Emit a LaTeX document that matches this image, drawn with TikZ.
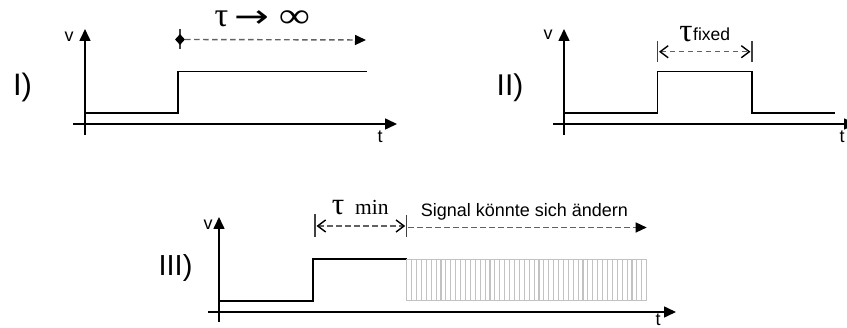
\documentclass[tikz,border=0pt]{standalone}
\usepackage{fontspec}
\usepackage{graphicx}
\setmainfont{Liberation Sans}
\newfontfamily\serifgr{Liberation Serif}
\newfontfamily\dejavu{DejaVu Sans}
\usetikzlibrary{arrows.meta,shapes.geometric}
\begin{document}
\begin{tikzpicture}[x=1pt,y=-1pt,
  axis/.style={line width=1.6pt, -{Triangle[length=12pt,width=11pt]}},
  sig/.style={line width=1.6pt},
  tickln/.style={line width=1.2pt, draw=black!75},
  dasharrow/.style={line width=1.4pt, draw=black!62, dash pattern=on 5.5pt off 3.5pt},
  chevL/.style={{Straight Barb[length=8pt,width=12pt,line width=1.4pt,color=black]}-},
  chevB/.style={{Straight Barb[length=8pt,width=12pt,line width=1.4pt,color=black]}-{Straight Barb[length=8pt,width=12pt,line width=1.4pt,color=black]}},
  filltip/.style={-{Triangle[length=11pt,width=10pt,color=black,fill=black]}},
  lbl/.style={inner sep=0pt, font=\fontsize{18}{18}\selectfont},
  roman/.style={inner sep=0pt, font=\fontsize{30}{30}\selectfont},
  hatchln/.style={line width=1.1pt, draw=black!24},
]
\useasboundingbox (0,0) rectangle (847,328);
\clip (0,0) rectangle (847,328);

% ---------------- Panel I ----------------
\coordinate (A1xs) at (73,124);  \coordinate (A1xe) at (397,124);
\coordinate (A1ys) at (85,135);  \coordinate (A1ye) at (85,29);
\draw[axis] (A1xs) -- (A1xe);
\draw[axis] (A1ys) -- (A1ye);
\coordinate (S1a) at (85,113);   \coordinate (S1b) at (178,113);
\coordinate (S1c) at (178,71.5); \coordinate (S1d) at (367,71.5);
\draw[sig] (S1a) -- (S1b) -- (S1c) -- (S1d);
\coordinate (T1a) at (180,29);   \coordinate (T1b) at (180,49);
\draw[tickln] (T1a) -- (T1b);
\node[diamond, fill=black, inner sep=0pt, minimum width=10pt, minimum height=11pt] (D1) at (180,39.5) {};
\coordinate (E1) at (366,40);
\draw[dasharrow, filltip] (D1.east) -- (E1);
\node[lbl] (v1) at (69,37) {v};
\node[lbl] (t1) at (380,137) {t};
\node[roman, font=\fontsize{31}{31}\selectfont] (r1) at (22.5,87) {I)};
\node[inner sep=0pt, anchor=base, font=\serifgr\fontsize{34}{34}\selectfont] (tau1) at (221.5,27) {τ};
\node[inner sep=0pt, font=\dejavu\fontsize{32}{32}\selectfont] (arr1) at (252,19.5) {\scalebox{1.3}[1]{→}};
\node[inner sep=0pt, font=\serifgr\fontsize{35}{35}\selectfont] (inf1) at (294.5,19) {\scalebox{1.25}[1]{∞}};

% ---------------- Panel II ----------------
\coordinate (A2xs) at (553,124); \coordinate (A2xe) at (856,124);
\coordinate (A2ys) at (564,135); \coordinate (A2ye) at (564,29);
\draw[axis] (A2xs) -- (A2xe);
\draw[axis] (A2ys) -- (A2ye);
\coordinate (S2a) at (564,113);    \coordinate (S2b) at (657.5,113);
\coordinate (S2c) at (657.5,71.5); \coordinate (S2d) at (752,71.5);
\coordinate (S2e) at (752,113);    \coordinate (S2f) at (835,113);
\draw[sig] (S2a) -- (S2b) -- (S2c) -- (S2d) -- (S2e) -- (S2f);
\coordinate (T2a) at (657.5,41); \coordinate (T2b) at (657.5,62);
\coordinate (T2c) at (752,41);   \coordinate (T2d) at (752,62);
\draw[tickln] (T2a) -- (T2b);
\draw[tickln] (T2c) -- (T2d);
\coordinate (F2a) at (659,51.7); \coordinate (F2b) at (750.5,51.7);
\draw[dasharrow, chevB] (F2a) -- (F2b);
\node[lbl] (v2) at (548,35) {v};
\node[lbl] (t2) at (842,137) {t};
\node[roman] (r2) at (510,88) {II)};
\node[inner sep=0pt, anchor=base, font=\serifgr\fontsize{33}{33}\selectfont] (tau2) at (686,41.5) {τ};
\node[inner sep=0pt, anchor=base west, font=\fontsize{17.5}{17.5}\selectfont] (fix2) at (693,41) {fixed};

% ---------------- Panel III ----------------
\coordinate (A3xs) at (208,312); \coordinate (A3xe) at (676,312);
\coordinate (A3ys) at (219,322); \coordinate (A3ye) at (219,217);
\draw[axis] (A3xs) -- (A3xe);
\draw[axis] (A3ys) -- (A3ye);
\coordinate (S3a) at (219,301);   \coordinate (S3b) at (313,301);
\coordinate (S3c) at (313,259.3); \coordinate (S3d) at (406.7,259.3);
\draw[sig] (S3a) -- (S3b) -- (S3c) -- (S3d);
% hatched region
\foreach \i in {0,...,49} {
  \draw[hatchln] ({406.7+\i*4.898},259.3) -- ({406.7+\i*4.898},300.7);
}
\draw[hatchln, line width=1.3pt] (406.7,259.3) rectangle (646.7,300.7);
\coordinate (T3a) at (315,214);   \coordinate (T3b) at (315,237);
\coordinate (T3c) at (406.7,215); \coordinate (T3d) at (406.7,237);
\draw[tickln] (T3a) -- (T3b);
\draw[tickln] (T3c) -- (T3d);
\coordinate (M3a) at (316.5,226); \coordinate (M3b) at (405.2,226);
\draw[dasharrow, chevB] (M3a) -- (M3b);
\coordinate (C3a) at (408.2,227.5); \coordinate (C3b) at (646.7,227.5);
\draw[dasharrow, chevL, filltip] (C3a) -- (C3b);
\node[lbl] (v3) at (208,225) {v};
\node[lbl] (t3) at (658,320) {t};
\node[roman, font=\fontsize{29}{29}\selectfont] (r3) at (175.5,268) {III)};
\node[inner sep=0pt, anchor=base, font=\serifgr\fontsize{31}{31}\selectfont] (tau3) at (338,215) {τ};
\node[inner sep=0pt, anchor=base west, font=\serifgr\fontsize{21.5}{21.5}\selectfont] (min3) at (355,215) {min};
\node[inner sep=0pt, anchor=base west, font=\fontsize{18}{18}\selectfont] (sig3) at (420.7,217) {Signal könnte sich ändern};
\end{tikzpicture}
\end{document}
